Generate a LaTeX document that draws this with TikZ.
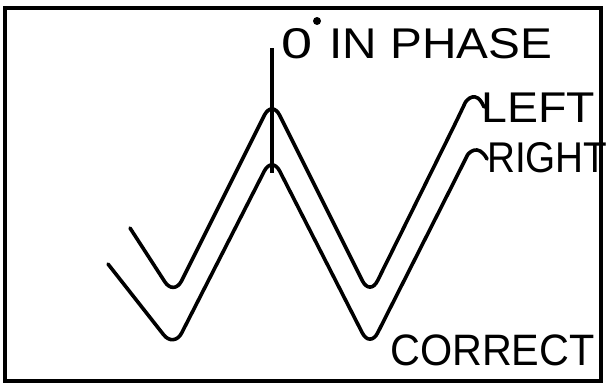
\documentclass[tikz,border=0pt]{standalone}
\usepackage{fontspec}
\setmainfont{Liberation Sans}
\usetikzlibrary{positioning}
\tikzset{
    screen/.style={line width=3.6pt}, % the outer frame
    wave/.style={line width=3.6pt, line join=round, line cap=round, rounded corners=17pt}, % the two traces
    marker/.style={line width=3.2pt},
    tag/.style={inner sep=0pt, anchor=base west, font=\fontsize{43}{43}\selectfont},
    dot/.style={circle, fill, inner sep=0pt, minimum size=8pt}
}

\begin{document}
\begin{tikzpicture}[x=1pt, y=-1pt]
    \useasboundingbox (0,0) rectangle (607,391);
    \draw[screen] (5,8) rectangle (601,381);

    % phase marker and its text
    \node[tag, anchor=base, xscale=1.3] (zero) at (297,58) {0};
    \node[dot] (deg) at (317,21) {};
    \node[tag, xscale=1.11] (phase) at (329,58) {IN PHASE};
    \coordinate (mtop) at (272,48);
    \coordinate (mbot) at (272,173);
    \draw[marker] (mtop) -- (mbot);

    % traces
    \draw[wave] (130,228) -- (174,296) -- (272,100) -- (370,296) -- (458,118)
        .. controls (466,101) and (476,88) .. (484,107);
    \draw[wave] (108,264) -- (174,348) -- (272,156) -- (370,348) -- (460,170)
        .. controls (468,154) and (478,142) .. (487,159);

    \node[tag, xscale=1.08] (left) at (481,122) {LEFT};
    \node[tag, xscale=0.9] (right) at (487,172) {RIGHT};
    \node[tag, xscale=0.94, font=\fontsize{44}{44}\selectfont] (correct) at (390,365) {CORRECT};
\end{tikzpicture}
\end{document}
